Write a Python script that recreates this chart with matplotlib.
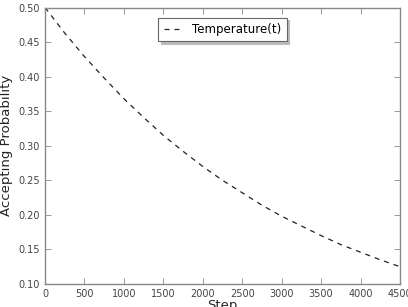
import matplotlib
matplotlib.use("Agg")
import matplotlib.pyplot as plt

steps = [0, 250, 500, 750, 1000, 1250, 1500, 1750, 2000, 2250, 2500, 2750,
         3000, 3250, 3500, 3750, 4000, 4250, 4500]
prob = [0.500, 0.463, 0.429, 0.398, 0.368, 0.341, 0.315, 0.292, 0.270, 0.250,
        0.232, 0.214, 0.198, 0.184, 0.170, 0.157, 0.146, 0.135, 0.125]
xticks = [0, 500, 1000, 1500, 2000, 2500, 3000, 3500, 4000, 4500]
yticks = [0.10, 0.15, 0.20, 0.25, 0.30, 0.35, 0.40, 0.45, 0.50]

fig = plt.figure(figsize=(4.08, 3.07), dpi=100)
ax = fig.add_axes([45/408, 1-284/307, 355/408, (284-7.5)/307])
ax.plot(steps, prob, color='#222222', linestyle='--', linewidth=0.9,
        dashes=(4, 4), label='Temperature(t)')
ax.set_xlim(0, 4500)
ax.set_ylim(0.10, 0.50)
ax.set_xticks(xticks)
ax.set_yticks(yticks)
ax.set_yticklabels([f"{v:.2f}" for v in yticks])
ax.tick_params(direction='in', top=True, right=True, labelsize=7,
               labelcolor='#444444', color='#888888', length=4, width=0.6)
for s in ax.spines.values():
    s.set_color('#888888')
    s.set_linewidth(1.0)
ax.set_xlabel('Step', fontsize=9.5, color='#222222', labelpad=0)
ax.set_ylabel('Accepting Probability', fontsize=9.5, color='#222222', labelpad=4)
leg = ax.legend(loc='upper center', fontsize=8.5, frameon=True, fancybox=False,
                shadow={'color': '#bbbbbb', 'alpha': 1.0}, handlelength=1.6,
                borderpad=0.45, bbox_to_anchor=(0.5, 0.985))
leg.get_frame().set_edgecolor('#666666')
leg.get_frame().set_linewidth(0.8)
fig.savefig('out.png', dpi=100)
